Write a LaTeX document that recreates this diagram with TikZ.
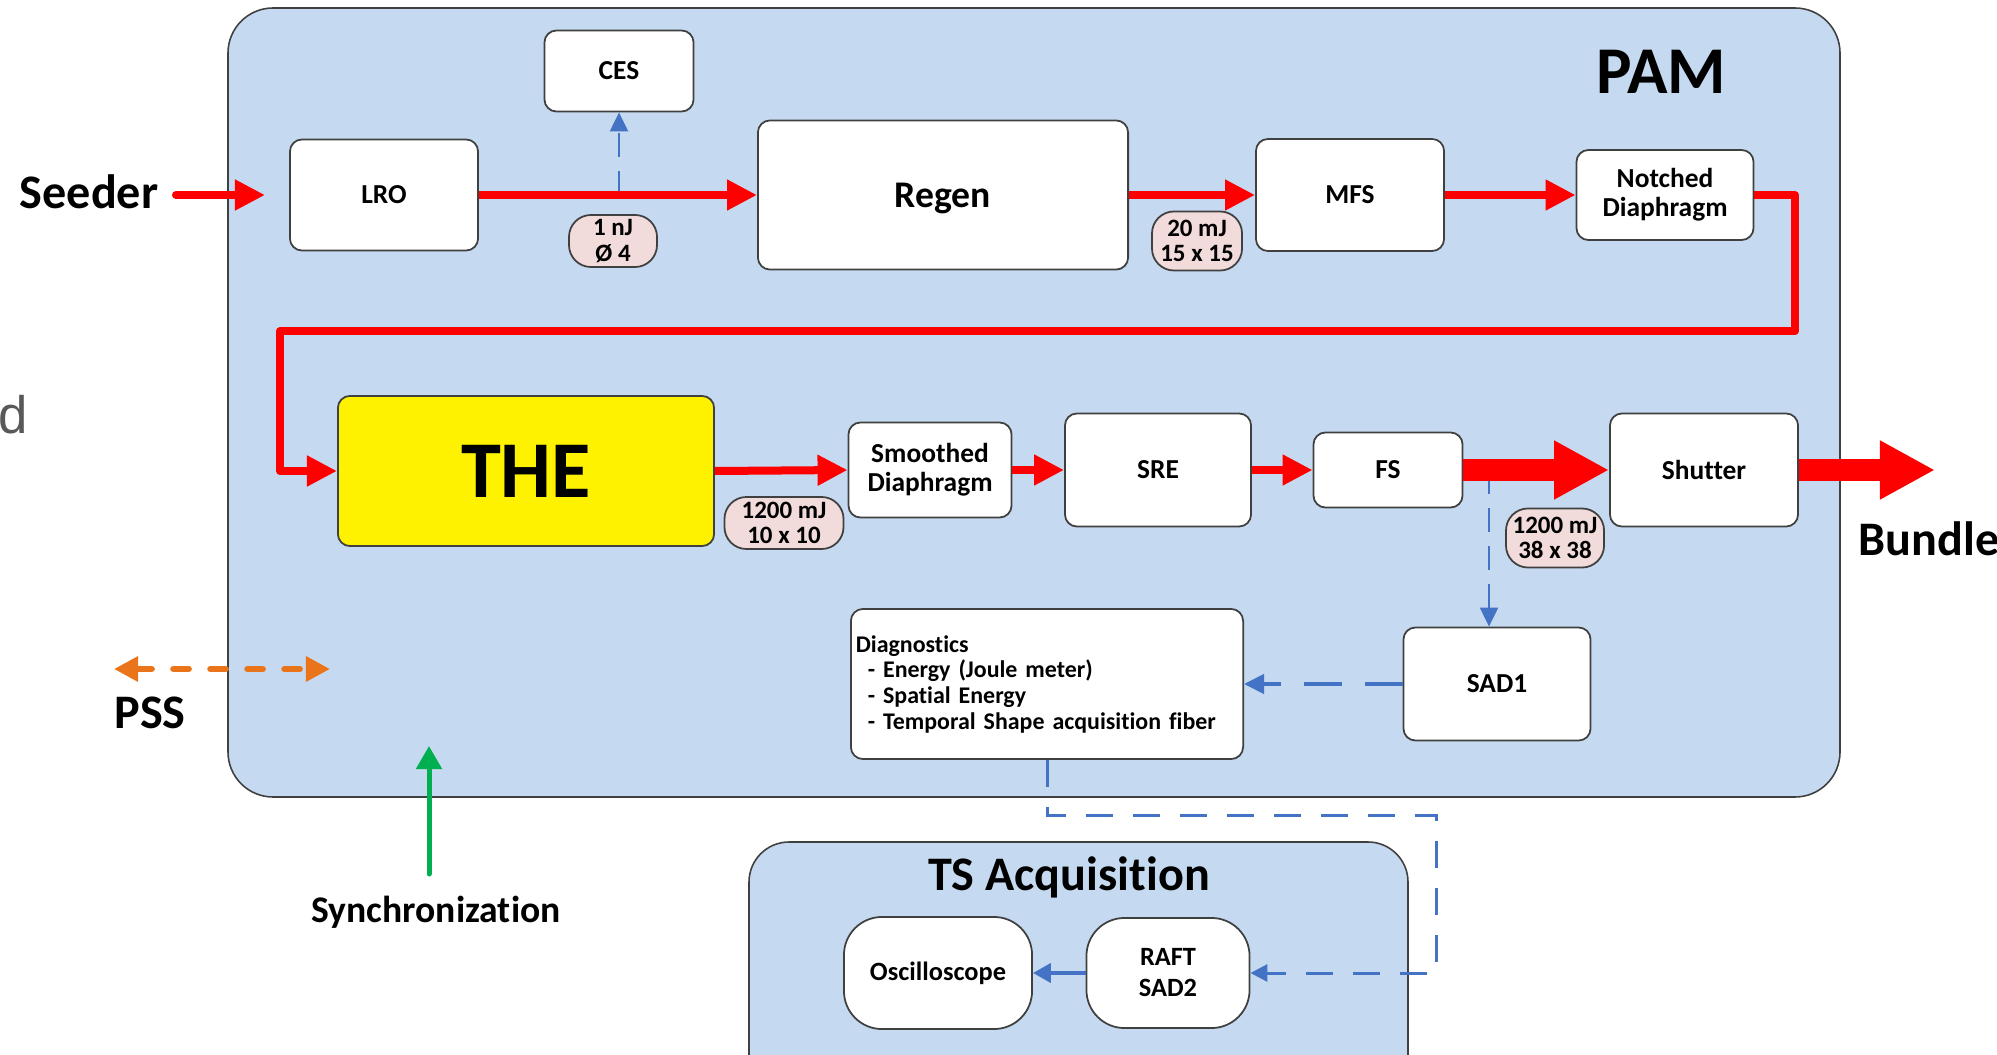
\documentclass[tikz,border=0pt]{standalone}
\usepackage{fontspec}
\setmainfont{Carlito}[Ligatures=NoCommon]
\newfontfamily\arialfont{Liberation Sans}
\usetikzlibrary{arrows.meta}
\definecolor{pamfill}{RGB}{197,217,240}
\definecolor{tagfill}{RGB}{242,220,219}
\definecolor{edge}{RGB}{64,64,64}
\definecolor{beamred}{RGB}{255,0,0}
\definecolor{sigblue}{RGB}{68,114,196}
\definecolor{pssorange}{RGB}{234,116,26}
\definecolor{syncgreen}{RGB}{0,176,80}
\definecolor{fragGray}{RGB}{89,89,89}

\begin{document}
\begin{tikzpicture}[x=0.01cm,y=-0.01cm,
  group/.style={draw=edge, line width=0.45pt, fill=pamfill},
  blk/.style={draw=edge, line width=0.5pt, fill=white, rounded corners=0.12cm,
    inner sep=0pt, align=center, font=\bfseries\fontsize{7.8}{8.2}\selectfont},
  roundblk/.style={blk, rounded corners=0.38cm},
  tag/.style={draw=edge, line width=0.5pt, fill=tagfill, rounded corners=0.22cm,
    inner sep=0pt, align=center, font=\bfseries\fontsize{7.1}{7.3}\selectfont},
  title/.style={inner sep=0pt, anchor=base, font=\bfseries\fontsize{13.7}{15}\selectfont},
  beam/.style={draw=beamred, line width=0.08cm, line join=round,
    -{Triangle[length=0.3cm,width=0.29cm]}},
  bigbeam/.style={draw=beamred, line width=0.21cm,
    -{Triangle[length=0.55cm,width=0.55cm]}},
  tapline/.style={draw=sigblue, line width=0.6pt, dash pattern=on 0.24cm off 0.14cm,
    -{Triangle[length=0.19cm,width=0.18cm]}},
  sigdash/.style={draw=sigblue, line width=0.04cm, dash pattern=on 0.38cm off 0.23cm,
    -{Triangle[length=0.2cm,width=0.19cm]}},
  fiberdash/.style={draw=sigblue, line width=0.03cm, dash pattern=on 0.27cm off 0.2cm,
    -{Triangle[length=0.17cm,width=0.17cm]}},
  sigsolid/.style={draw=sigblue, line width=0.04cm,
    -{Triangle[length=0.18cm,width=0.19cm]}},
]
\useasboundingbox (0,0) rectangle (1997,1055);
\clip (0,0) rectangle (1997,1055);

% cut-off text fragment at the left margin
\node[font=\arialfont\fontsize{15}{18}\selectfont, text=fragGray, anchor=base west,
  inner sep=0pt] (frag) at (-2,433) {d};

% enclosing groups
\draw[group, rounded corners=0.45cm] (228,8) rectangle (1840,797);
\node[title, font=\bfseries\fontsize{19}{21}\selectfont] (pam) at (1661,94) {PAM};
\draw[group, rounded corners=0.4cm] (749,842) rectangle (1408,1110);
\node[title] (tsacq) at (1069,890) {TS Acquisition};

% first row
\node[blk, minimum width=1.88cm, minimum height=1.11cm] (LRO) at (384,195) {LRO};
\node[blk, minimum width=1.49cm, minimum height=0.81cm] (CES) at (619,71) {CES};
\node[blk, minimum width=3.70cm, minimum height=1.49cm, text depth=0pt,
  font=\bfseries\fontsize{10.7}{12}\selectfont] (Regen) at (943,195) {Regen};
\node[blk, minimum width=1.88cm, minimum height=1.12cm] (MFS) at (1350,195) {MFS};
\node[blk, minimum width=1.77cm, minimum height=0.90cm] (Notched) at (1665,195) {Notched\\Diaphragm};
\node[tag, minimum width=0.88cm, minimum height=0.52cm] (t1) at (613,241) {1 nJ\\Ø 4};
\node[tag, minimum width=0.90cm, minimum height=0.59cm] (t2) at (1197,241) {20 mJ\\15 x 15};

% second row
\node[blk, fill=yellow, minimum width=3.76cm, minimum height=1.50cm,
  font=\bfseries\fontsize{22.9}{24}\selectfont] (THE) at (526,471) {THE};
\node[blk, minimum width=1.63cm, minimum height=0.95cm] (Smooth) at (930,470) {Smoothed\\Diaphragm};
\node[blk, minimum width=1.86cm, minimum height=1.13cm] (SRE) at (1158,470) {SRE};
\node[blk, minimum width=1.49cm, minimum height=0.75cm] (FS) at (1388,470) {FS};
\node[blk, minimum width=1.88cm, minimum height=1.13cm] (Shutter) at (1704,470) {Shutter};
\node[tag, minimum width=1.19cm, minimum height=0.52cm] (t3) at (784,523) {1200 mJ\\10 x 10};
\node[tag, minimum width=0.98cm, minimum height=0.59cm] (t4) at (1555,538) {1200 mJ\\38 x 38};

% diagnostics row
\node[blk, minimum width=1.87cm, minimum height=1.13cm] (SAD1) at (1497,684) {SAD1};
\node[blk, minimum width=3.92cm, minimum height=1.50cm, align=left, inner xsep=0.05cm,
  text width=3.82cm, font=\bfseries\fontsize{6.8}{7.3}\selectfont] (Diag) at (1047,684)
  {Diagnostics\\
   \hspace*{3.4pt}- Energy (Joule meter)\\
   \hspace*{3.4pt}- Spatial Energy\\
   \hspace*{3.4pt}- Temporal Shape acquisition fiber};

% acquisition chain
\node[roundblk, minimum width=1.88cm, minimum height=1.12cm,
  font=\bfseries\fontsize{7.5}{8.8}\selectfont] (Osc) at (938,973) {Oscilloscope};
\node[roundblk, minimum width=1.63cm, minimum height=1.10cm,
  font=\bfseries\fontsize{7.5}{8.8}\selectfont] (RAFT) at (1168,973) {RAFT\\SAD2};

% outside labels
\node[title] (seeder) at (89,209) {Seeder};
\node[title, anchor=base west] (bundle) at (1858,555) {Bundle};
\node[title] (pss) at (150,728) {PSS};
\node[title, font=\bfseries\fontsize{10.7}{12}\selectfont] (sync) at (436,922) {Synchronization};

% free ends and bends
\coordinate (seedStart) at (176,195);
\coordinate (seedTip) at (265,195);
\coordinate (tap1) at (619,195);
\coordinate (turnA) at (1795,331);
\coordinate (turnB) at (280,331);
\coordinate (tap2) at (1489,470);
\coordinate (bundleTip) at (1935,470);
\coordinate (jog) at (1436,815);
\coordinate (pssL) at (114,669);
\coordinate (pssR) at (330,669);
\coordinate (syncStart) at (429,874);
\coordinate (syncTip) at (429,746);

% sampling taps (under the beam)
\draw[tapline] (tap1) -- (tap1 |- CES.south);
\draw[tapline] (tap2) -- (tap2 |- SAD1.north);

% laser beam path
\draw[beam, line cap=round] (seedStart) -- (seedTip);
\draw[beam] (LRO.east) -- (Regen.west);
\draw[beam] (Regen.east) -- (MFS.west);
\draw[beam] (MFS.east) -- (Notched.west);
\draw[beam] (Notched.east) -| (turnA) -- (turnB) |- (THE.west);
\draw[beam] (THE.east) -- (Smooth.west);
\draw[beam] (Smooth.east) -- (SRE.west);
\draw[beam] (SRE.east) -- (FS.west);
\draw[bigbeam] (FS.east) -- (Shutter.west);
\draw[bigbeam] (Shutter.east) -- (bundleTip);

% diagnostics signals
\draw[sigdash] (SAD1.west) -- (Diag.east);
\draw[fiberdash] (Diag.south) |- (jog) |- (RAFT.east);
\draw[sigsolid] (RAFT.west) -- (Osc.east);

% external interfaces
\draw[draw=pssorange, line width=0.067cm, line cap=round, dash pattern=on 0.15cm off 0.22cm,
  {Triangle[length=0.24cm,width=0.24cm]}-{Triangle[length=0.24cm,width=0.24cm]}] (pssL) -- (pssR);
\draw[draw=syncgreen, line width=0.05cm, line cap=round,
  -{Triangle[length=0.23cm,width=0.25cm]}] (syncStart) -- (syncTip);
\end{tikzpicture}
\end{document}
